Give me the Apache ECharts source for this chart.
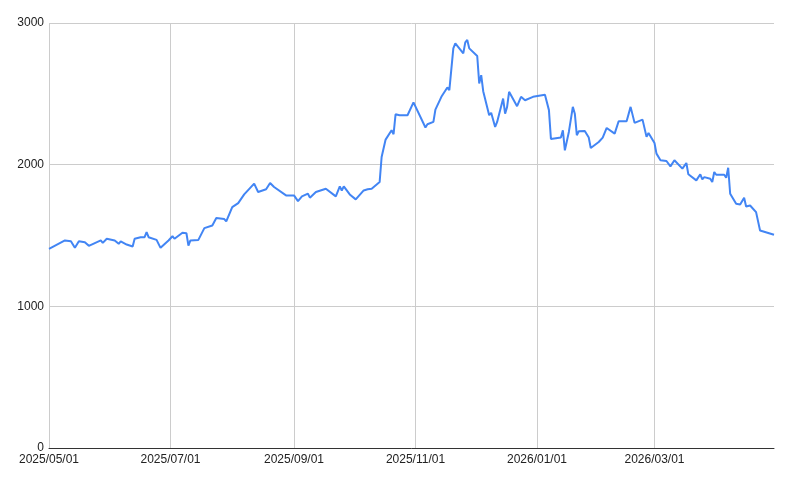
<!DOCTYPE html>
<html>
<head>
<meta charset="utf-8">
<title>Chart</title>
<style>
  html, body { margin: 0; padding: 0; background: #fff; }
  #main { width: 787px; height: 478px; }
</style>
</head>
<body>
<div id="main"></div>
<script src="https://cdn.jsdelivr.net/npm/echarts@6/dist/echarts.min.js"></script>
<script>
// dates and values
var dates = [
  '2025-05-01','2025-05-09','2025-05-12','2025-05-14','2025-05-16','2025-05-19','2025-05-21','2025-05-27','2025-05-28','2025-05-30',
  '2025-06-03','2025-06-05','2025-06-06','2025-06-09','2025-06-12','2025-06-13','2025-06-16','2025-06-18','2025-06-19','2025-06-20',
  '2025-06-24','2025-06-26','2025-06-27','2025-06-30','2025-07-02','2025-07-03','2025-07-07','2025-07-09','2025-07-10','2025-07-11',
  '2025-07-15','2025-07-18','2025-07-22','2025-07-24','2025-07-28','2025-07-29','2025-07-30','2025-08-01','2025-08-04','2025-08-05',
  '2025-08-07','2025-08-12','2025-08-14','2025-08-18','2025-08-20','2025-08-22','2025-08-28','2025-09-01','2025-09-03','2025-09-05',
  '2025-09-08','2025-09-09','2025-09-12','2025-09-17','2025-09-22','2025-09-24','2025-09-25','2025-09-26','2025-09-29','2025-09-30',
  '2025-10-02','2025-10-06','2025-10-07','2025-10-08','2025-10-10','2025-10-14','2025-10-15','2025-10-17','2025-10-20','2025-10-21',
  '2025-10-22','2025-10-23','2025-10-24','2025-10-28','2025-10-31','2025-11-06','2025-11-07','2025-11-10','2025-11-11','2025-11-12',
  '2025-11-14','2025-11-17','2025-11-18','2025-11-20','2025-11-21','2025-11-25','2025-11-26','2025-11-27','2025-11-28','2025-12-02',
  '2025-12-03','2025-12-04','2025-12-05','2025-12-08','2025-12-09','2025-12-10','2025-12-11','2025-12-12','2025-12-15','2025-12-16',
  '2025-12-17','2025-12-18','2025-12-22','2025-12-24','2025-12-26','2025-12-30','2026-01-02','2026-01-05','2026-01-07','2026-01-08',
  '2026-01-13','2026-01-14','2026-01-15','2026-01-17','2026-01-19','2026-01-20','2026-01-21','2026-01-22','2026-01-25','2026-01-27',
  '2026-01-28','2026-01-29','2026-02-01','2026-02-03','2026-02-05','2026-02-09','2026-02-11','2026-02-15','2026-02-17','2026-02-19',
  '2026-02-23','2026-02-25','2026-02-26','2026-03-01','2026-03-02','2026-03-03','2026-03-04','2026-03-05','2026-03-07','2026-03-09',
  '2026-03-11','2026-03-15','2026-03-17','2026-03-18','2026-03-22','2026-03-24','2026-03-25','2026-03-26','2026-03-29','2026-03-30',
  '2026-03-31','2026-04-01','2026-04-02','2026-04-05','2026-04-06','2026-04-07','2026-04-08','2026-04-11','2026-04-13','2026-04-15',
  '2026-04-16','2026-04-18','2026-04-21','2026-04-23','2026-04-30'
];
var values = [
  1406,1465,1460,1413,1460,1453,1427,1465,1448,1477,
  1465,1441,1458,1436,1422,1477,1488,1488,1523,1488,
  1469,1413,1422,1465,1495,1477,1519,1516,1429,1465,
  1469,1552,1571,1623,1616,1599,1606,1700,1729,1736,
  1790,1866,1807,1826,1870,1842,1783,1783,1743,1776,
  1795,1767,1807,1830,1776,1847,1818,1847,1790,1795,
  1755,1818,1807,1826,1830,1877,2054,2177,2243,2215,
  2356,2365,2349,2349,2440,2262,2285,2302,2389,2385,
  2479,2545,2526,2821,2856,2786,2863,2880,2821,2767,
  2573,2632,2519,2349,2366,2360,2266,2302,2467,2360,
  2408,2514,2413,2479,2455,2479,2486,2493,2385,2182,
  2191,2243,2101,2231,2408,2360,2208,2236,2238,2191,
  2118,2118,2160,2191,2259,2219,2306,2306,2408,2295,
  2318,2196,2224,2153,2078,2066,2031,2043,2026,1988,
  2031,1972,2012,1932,1889,1932,1896,1912,1901,1877,
  1948,1929,1936,1929,1908,1978,1795,1724,1719,1767,
  1705,1712,1665,1535,1505
];
var xTicks = ['2025-05-01','2025-07-01','2025-09-01','2025-11-01','2026-01-01','2026-03-01'];

function ts(s) {
  var p = s.split('-');
  return Date.UTC(+p[0], +p[1] - 1, +p[2]);
}
function pad(n) { return n < 10 ? '0' + n : '' + n; }

var seriesData = dates.map(function (d, i) { return [ts(d), values[i]]; });
var tickTimes = xTicks.map(ts);

var chart = echarts.init(document.getElementById('main'));
chart.setOption({
  backgroundColor: '#fff',
  animation: false,
  grid: { left: 49, right: 13, top: 23, bottom: 30 },
  xAxis: {
    type: 'value',
    min: ts(dates[0]),
    max: ts(dates[dates.length - 1]),
    axisLine: { show: true, lineStyle: { color: '#333', width: 1 } },
    axisTick: { show: false, customValues: tickTimes },
    axisLabel: {
      customValues: tickTimes,
      color: '#222',
      fontFamily: 'Arial, "Liberation Sans", sans-serif',
      fontSize: 12,
      margin: 6,
      hideOverlap: false,
      formatter: function (v) {
        var d = new Date(v);
        return d.getUTCFullYear() + '/' + pad(d.getUTCMonth() + 1) + '/' + pad(d.getUTCDate());
      }
    },
    splitLine: { show: true, lineStyle: { color: '#cccccc', width: 1 } }
  },
  yAxis: {
    type: 'value',
    min: 0,
    max: 3000,
    interval: 1000,
    axisLine: { show: false },
    axisTick: { show: false },
    axisLabel: {
      color: '#222',
      fontFamily: 'Arial, "Liberation Sans", sans-serif',
      fontSize: 12,
      margin: 5,
      formatter: function (v) { return String(v); }
    },
    splitLine: { lineStyle: { color: '#cccccc', width: 1 } }
  },
  series: [{
    type: 'line',
    data: seriesData,
    showSymbol: false,
    symbol: 'none',
    lineStyle: { color: '#4285f4', width: 2 },
    itemStyle: { color: '#4285f4' }
  }]
});
</script>
</body>
</html>
